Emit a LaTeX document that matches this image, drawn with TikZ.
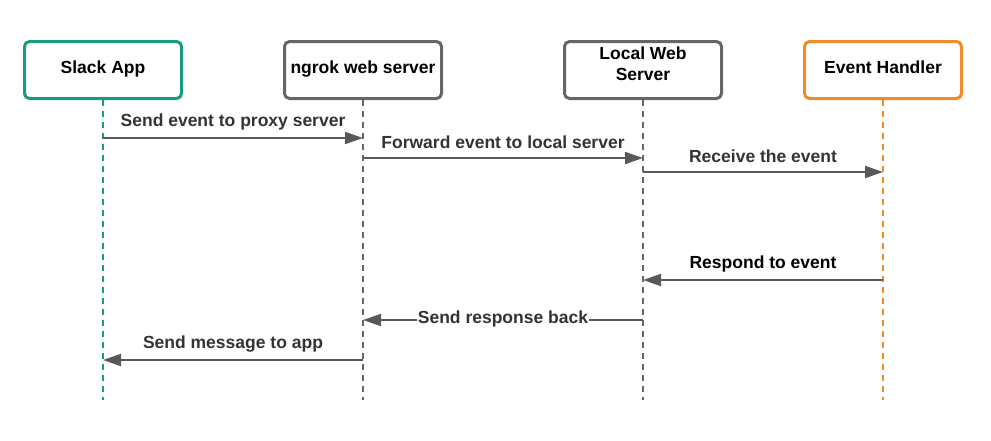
\documentclass[tikz,border=0pt]{standalone}
\usepackage{fontspec}
\setmainfont{Liberation Sans}
\usetikzlibrary{arrows.meta}
\definecolor{slackgreen}{HTML}{1A9A80}
\definecolor{handlerorange}{HTML}{F08C28}
\definecolor{boxgray}{HTML}{666666}
\definecolor{msggray}{HTML}{595959}
\definecolor{labelgray}{HTML}{333333}
\tikzset{
  actor/.style={
    draw=#1,
    line width=3pt,
    rounded corners=5pt,
    minimum width=157pt,
    minimum height=57pt,
    align=center,
    text depth=6pt,
    font=\fontsize{17.5}{20}\selectfont\bfseries
  },
  lifeline/.style={
    draw=#1,
    line width=1.3pt,
    dash pattern=on 6pt off 5pt
  },
  message/.style={
    draw=msggray,
    line width=2pt,
    -{Triangle[length=18pt,width=12pt]}
  },
  msg label/.style={
    text=labelgray,
    font=\fontsize{17.5}{20}\selectfont\bfseries
  }
}

\begin{document}
\begin{tikzpicture}[x=1pt,y=-1pt]
  \useasboundingbox (0,0) rectangle (991,440);
  % participants
  \node[actor=slackgreen] (slack) at (103,70) {Slack App};
  \node[actor=boxgray] (ngrok) at (363,70) {ngrok web server};
  \node[actor=boxgray, text height=33pt, text depth=12.4pt] (local) at (643,70) {Local Web\\[1pt]Server};
  \node[actor=handlerorange] (handler) at (883,70) {Event Handler};
  % lifelines
  \coordinate (slack end) at (103,400);
  \coordinate (ngrok end) at (363,400);
  \coordinate (local end) at (643,400);
  \coordinate (handler end) at (883,400);
  \draw[lifeline=slackgreen] (slack.south) -- (slack end);
  \draw[lifeline=boxgray] (ngrok.south) -- (ngrok end);
  \draw[lifeline=boxgray] (local.south) -- (local end);
  \draw[lifeline=handlerorange] (handler.south) -- (handler end);
  % messages
  \draw[message] (slack |- 0,138) -- (ngrok |- 0,138)
    node[msg label, midway, yshift=16pt] {Send event to proxy server};
  \draw[message] (ngrok |- 0,158) -- (local |- 0,158)
    node[msg label, midway, yshift=16pt] {Forward event to local server};
  \draw[message] (local |- 0,172) -- (handler |- 0,172)
    node[msg label, midway, yshift=16pt] {Receive the event};
  \draw[message] (handler |- 0,280) -- (local |- 0,280)
    node[msg label, text=black, midway, yshift=16pt] {Respond to event};
  \draw[message] (local |- 0,320) -- (ngrok |- 0,320)
    node[msg label, midway, fill=white, inner sep=1pt, yshift=1pt] {Send response back};
  \draw[message] (ngrok |- 0,360) -- (slack |- 0,360)
    node[msg label, midway, yshift=16pt] {Send message to app};
\end{tikzpicture}
\end{document}
